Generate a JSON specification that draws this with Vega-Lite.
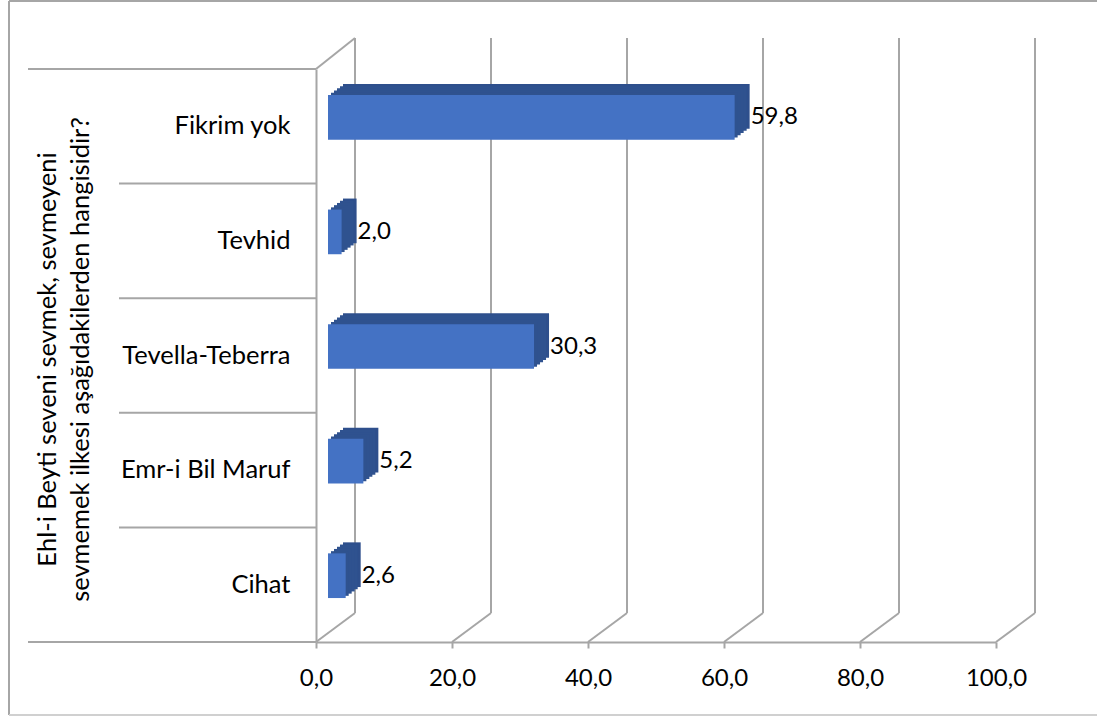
{
  "$schema": "https://vega.github.io/schema/vega-lite/v6.json",
  "width": 680,
  "height": 573,
  "autosize": {"type": "none"},
  "padding": {"left": 316, "top": 69, "right": 101, "bottom": 74},
  "config": {
    "locale": {"number": {"decimal": ",", "thousands": ".", "grouping": [3], "currency": ["", " TL"]}},
    "view": {"stroke": null},
    "font": "Lato"
  },
  "datasets": {
    "bars": [
      {"cat": "Fikrim yok", "v": 59.8},
      {"cat": "Tevhid", "v": 2.0},
      {"cat": "Tevella-Teberra", "v": 30.3},
      {"cat": "Emr-i Bil Maruf", "v": 5.2},
      {"cat": "Cihat", "v": 2.6}
    ],
    "grid": [{"t": 0}, {"t": 20}, {"t": 40}, {"t": 60}, {"t": 80}, {"t": 100}]
  },
  "layer": [
    {
      "data": {"name": "bars"},
      "mark": {"type": "bar", "color": "#4472C4", "height": {"band": 0.39}, "xOffset": 12, "x2Offset": 12, "yOffset": -9, "y2Offset": -9, "opacity": 0},
      "encoding": {
        "x": {"field": "v", "type": "quantitative", "scale": {"domain": [0, 100], "nice": false},
          "axis": {"values": [0, 20, 40, 60, 80, 100], "format": ".1f", "grid": false, "title": null, "labelFlush": false,
            "domainColor": "#A6A6A6", "domainWidth": 2, "tickColor": "#A6A6A6", "tickWidth": 2, "tickSize": 6,
            "labelFont": "Lato", "labelFontSize": 24, "labelColor": "#000000", "labelPadding": 18}},
        "y": {"field": "cat", "type": "nominal", "sort": null,
          "scale": {"domain": ["Fikrim yok", "Tevhid", "Tevella-Teberra", "Emr-i Bil Maruf", "Cihat"], "paddingInner": 0, "paddingOuter": 0},
          "axis": {"title": ["Ehl-i Beyti seveni sevmek, sevmeyeni", "sevmemek ilkesi aşağıdakilerden hangisidir?"],
            "ticks": false, "domainColor": "#A6A6A6", "domainWidth": 2,
            "labelFont": "Lato", "labelFontSize": 25.5, "labelColor": "#000000", "labelPadding": 26,
            "titleFont": "Lato", "titleFontSize": 25.5, "titleFontWeight": "normal", "titleColor": "#000000",
            "titleX": -269, "titleY": 290, "titleAngle": -90, "titleAlign": "center", "titleBaseline": "middle", "titleLineHeight": 33}}
      }
    },
    {
      "data": {"values": [{}]},
      "mark": {"type": "rule", "color": "#A6A6A6", "strokeWidth": 2, "xOffset": -307, "yOffset": -68, "y2Offset": 73},
      "encoding": {
        "x": {"datum": 0, "type": "quantitative"},
        "y": {"datum": "Fikrim yok", "type": "nominal", "bandPosition": 0},
        "y2": {"datum": "Cihat", "bandPosition": 1}
      }
    },
    {
      "data": {"values": [{}]},
      "mark": {"type": "rule", "color": "#A6A6A6", "strokeWidth": 2, "xOffset": -307, "x2Offset": 110, "yOffset": -68},
      "encoding": {
        "x": {"datum": 0, "type": "quantitative"},
        "x2": {"datum": 100},
        "y": {"datum": "Fikrim yok", "type": "nominal", "bandPosition": 0}
      }
    },
    {
      "data": {"values": [{}]},
      "mark": {"type": "rule", "color": "#D0D0D0", "strokeWidth": 2, "xOffset": -307, "x2Offset": 110, "yOffset": 73},
      "encoding": {
        "x": {"datum": 0, "type": "quantitative"},
        "x2": {"datum": 100},
        "y": {"datum": "Cihat", "type": "nominal", "bandPosition": 1}
      }
    },
    {
      "data": {"name": "grid"},
      "mark": {"type": "rule", "color": "#A6A6A6", "strokeWidth": 2, "x2Offset": 39, "y2Offset": -29},
      "encoding": {
        "x": {"field": "t", "type": "quantitative"},
        "x2": {"field": "t"},
        "y": {"datum": "Cihat", "type": "nominal", "bandPosition": 1},
        "y2": {"datum": "Cihat", "bandPosition": 1}
      }
    },
    {
      "data": {"name": "grid"},
      "mark": {"type": "rule", "color": "#A6A6A6", "strokeWidth": 2, "xOffset": 39, "yOffset": -29, "y2Offset": -31},
      "encoding": {
        "x": {"field": "t", "type": "quantitative"},
        "y": {"datum": "Cihat", "type": "nominal", "bandPosition": 1},
        "y2": {"datum": "Fikrim yok", "bandPosition": 0}
      }
    },
    {
      "data": {"values": [{}]},
      "mark": {"type": "rule", "color": "#A6A6A6", "strokeWidth": 2, "x2Offset": 39, "y2Offset": -31},
      "encoding": {
        "x": {"datum": 0, "type": "quantitative"},
        "x2": {"datum": 0},
        "y": {"datum": "Fikrim yok", "type": "nominal", "bandPosition": 0},
        "y2": {"datum": "Fikrim yok", "bandPosition": 0}
      }
    },
    {
      "data": {"name": "bars"},
      "mark": {"type": "rule", "color": "#A6A6A6", "strokeWidth": 2, "xOffset": -197},
      "encoding": {
        "x": {"datum": 0, "type": "quantitative"},
        "x2": {"datum": 0},
        "y": {"field": "cat", "type": "nominal", "bandPosition": 0}
      }
    },
    {
      "data": {"values": [{}]},
      "mark": {"type": "rule", "color": "#A6A6A6", "strokeWidth": 2, "xOffset": -288},
      "encoding": {
        "x": {"datum": 0, "type": "quantitative"},
        "x2": {"datum": 0},
        "y": {"datum": "Fikrim yok", "type": "nominal", "bandPosition": 0}
      }
    },
    {
      "data": {"values": [{}]},
      "mark": {"type": "rule", "color": "#A6A6A6", "strokeWidth": 2, "xOffset": -288},
      "encoding": {
        "x": {"datum": 0, "type": "quantitative"},
        "x2": {"datum": 0},
        "y": {"datum": "Cihat", "type": "nominal", "bandPosition": 1}
      }
    },
    {
      "data": {"name": "bars"},
      "mark": {"type": "bar", "color": "#2E4F8C", "height": {"band": 0.39}, "xOffset": 27, "x2Offset": 27, "yOffset": -20, "y2Offset": -20},
      "encoding": {"x": {"field": "v", "type": "quantitative"}, "y": {"field": "cat", "type": "nominal"}}
    },
    {
      "data": {"name": "bars"},
      "mark": {"type": "bar", "color": "#2F528F", "height": {"band": 0.39}, "xOffset": 24, "x2Offset": 24, "yOffset": -17.8, "y2Offset": -17.8},
      "encoding": {"x": {"field": "v", "type": "quantitative"}, "y": {"field": "cat", "type": "nominal"}}
    },
    {
      "data": {"name": "bars"},
      "mark": {"type": "bar", "color": "#2F528F", "height": {"band": 0.39}, "xOffset": 21, "x2Offset": 21, "yOffset": -15.6, "y2Offset": -15.6},
      "encoding": {"x": {"field": "v", "type": "quantitative"}, "y": {"field": "cat", "type": "nominal"}}
    },
    {
      "data": {"name": "bars"},
      "mark": {"type": "bar", "color": "#2F528F", "height": {"band": 0.39}, "xOffset": 18, "x2Offset": 18, "yOffset": -13.4, "y2Offset": -13.4},
      "encoding": {"x": {"field": "v", "type": "quantitative"}, "y": {"field": "cat", "type": "nominal"}}
    },
    {
      "data": {"name": "bars"},
      "mark": {"type": "bar", "color": "#2F528F", "height": {"band": 0.39}, "xOffset": 15, "x2Offset": 15, "yOffset": -11.2, "y2Offset": -11.2},
      "encoding": {"x": {"field": "v", "type": "quantitative"}, "y": {"field": "cat", "type": "nominal"}}
    },
    {
      "data": {"name": "bars"},
      "mark": {"type": "bar", "color": "#4472C4", "height": {"band": 0.39}, "xOffset": 12, "x2Offset": 12, "yOffset": -9, "y2Offset": -9},
      "encoding": {"x": {"field": "v", "type": "quantitative"}, "y": {"field": "cat", "type": "nominal"}}
    },
    {
      "data": {"name": "bars"},
      "mark": {"type": "text", "align": "left", "baseline": "middle", "dx": 28, "dy": -9, "font": "Lato", "fontSize": 24, "color": "#000000"},
      "encoding": {
        "x": {"field": "v", "type": "quantitative"},
        "y": {"field": "cat", "type": "nominal"},
        "text": {"field": "v", "type": "quantitative", "format": ".1f"}
      }
    }
  ]
}
